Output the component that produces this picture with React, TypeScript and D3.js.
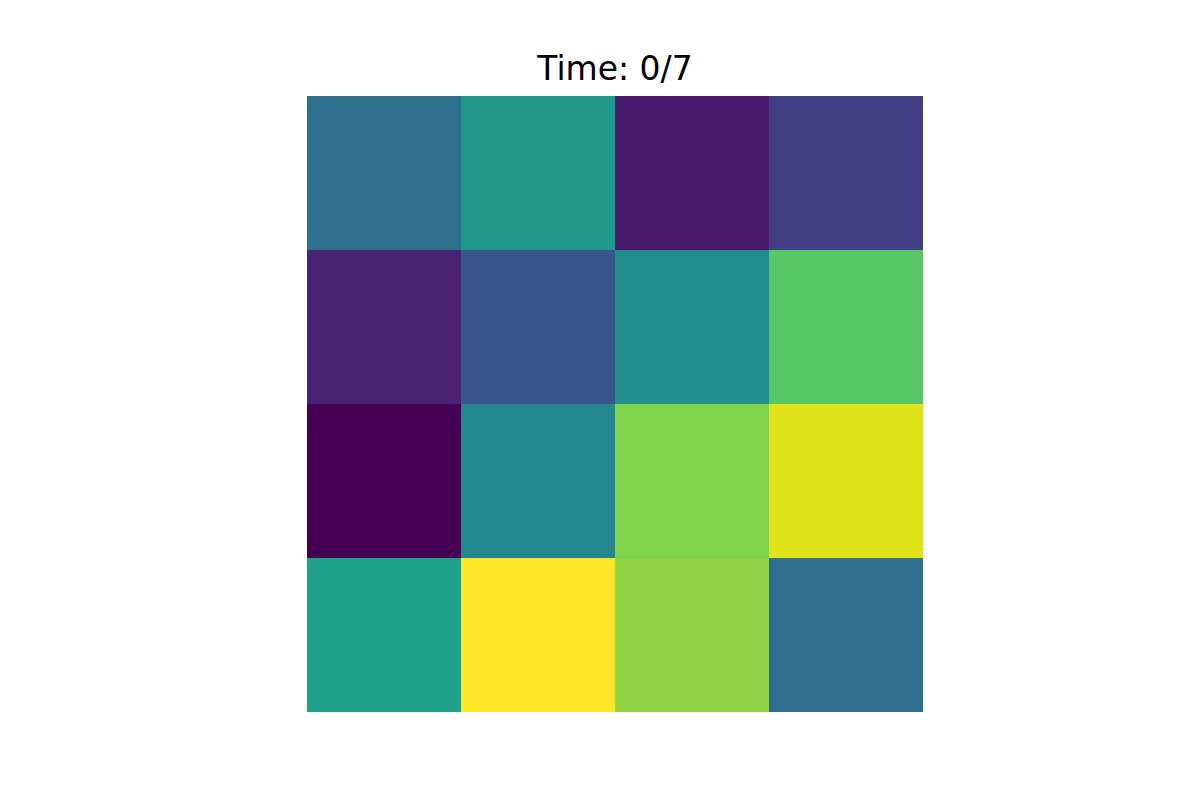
import { useEffect, useRef } from "react";
import * as d3 from "d3";

// 4x4 grid values at time step 0
const rowLabels = ["r0", "r1", "r2", "r3"];
const colLabels = ["c0", "c1", "c2", "c3"];
const row0 = [0.36, 0.53, 0.07, 0.18];
const row1 = [0.09, 0.26, 0.49, 0.74];
const row2 = [0.0, 0.47, 0.81, 0.95];
const row3 = [0.57, 1.0, 0.83, 0.36];
const grid = [row0, row1, row2, row3];
const timeStep = 0;
const totalSteps = 7;

const App = () => {
  const ref = useRef<SVGSVGElement | null>(null);

  useEffect(() => {
    document.body.style.margin = "0";
    if (!ref.current) return;
    const svg = d3.select(ref.current);
    svg.selectAll("*").remove();

    const left = 307;
    const top = 96;
    const size = 616;

    const x = d3.scaleBand().domain(colLabels).range([left, left + size]);
    const y = d3.scaleBand().domain(rowLabels).range([top, top + size]);

    const all = grid.flat();
    const color = d3
      .scaleSequential(d3.interpolateViridis)
      .domain([d3.min(all) as number, d3.max(all) as number]);

    const cells = grid.flatMap((row, i) =>
      row.map((v, j) => ({ r: rowLabels[i], c: colLabels[j], v }))
    );

    svg
      .append("g")
      .selectAll("rect")
      .data(cells)
      .enter()
      .append("rect")
      .attr("x", (d) => x(d.c) as number)
      .attr("y", (d) => y(d.r) as number)
      .attr("width", x.bandwidth())
      .attr("height", y.bandwidth())
      .attr("fill", (d) => color(d.v))
      .attr("shape-rendering", "crispEdges");

    // Titulo
    svg
      .append("text")
      .attr("x", left + size / 2)
      .attr("y", top - 16)
      .attr("text-anchor", "middle")
      .style("font-family", "DejaVu Sans")
      .style("font-size", "33px")
      .style("fill", "#000")
      .text(`Time: ${timeStep}/${totalSteps}`);
  }, []);

  return <svg ref={ref} width={1200} height={800} style={{ display: "block" }} />;
};

export default App;
